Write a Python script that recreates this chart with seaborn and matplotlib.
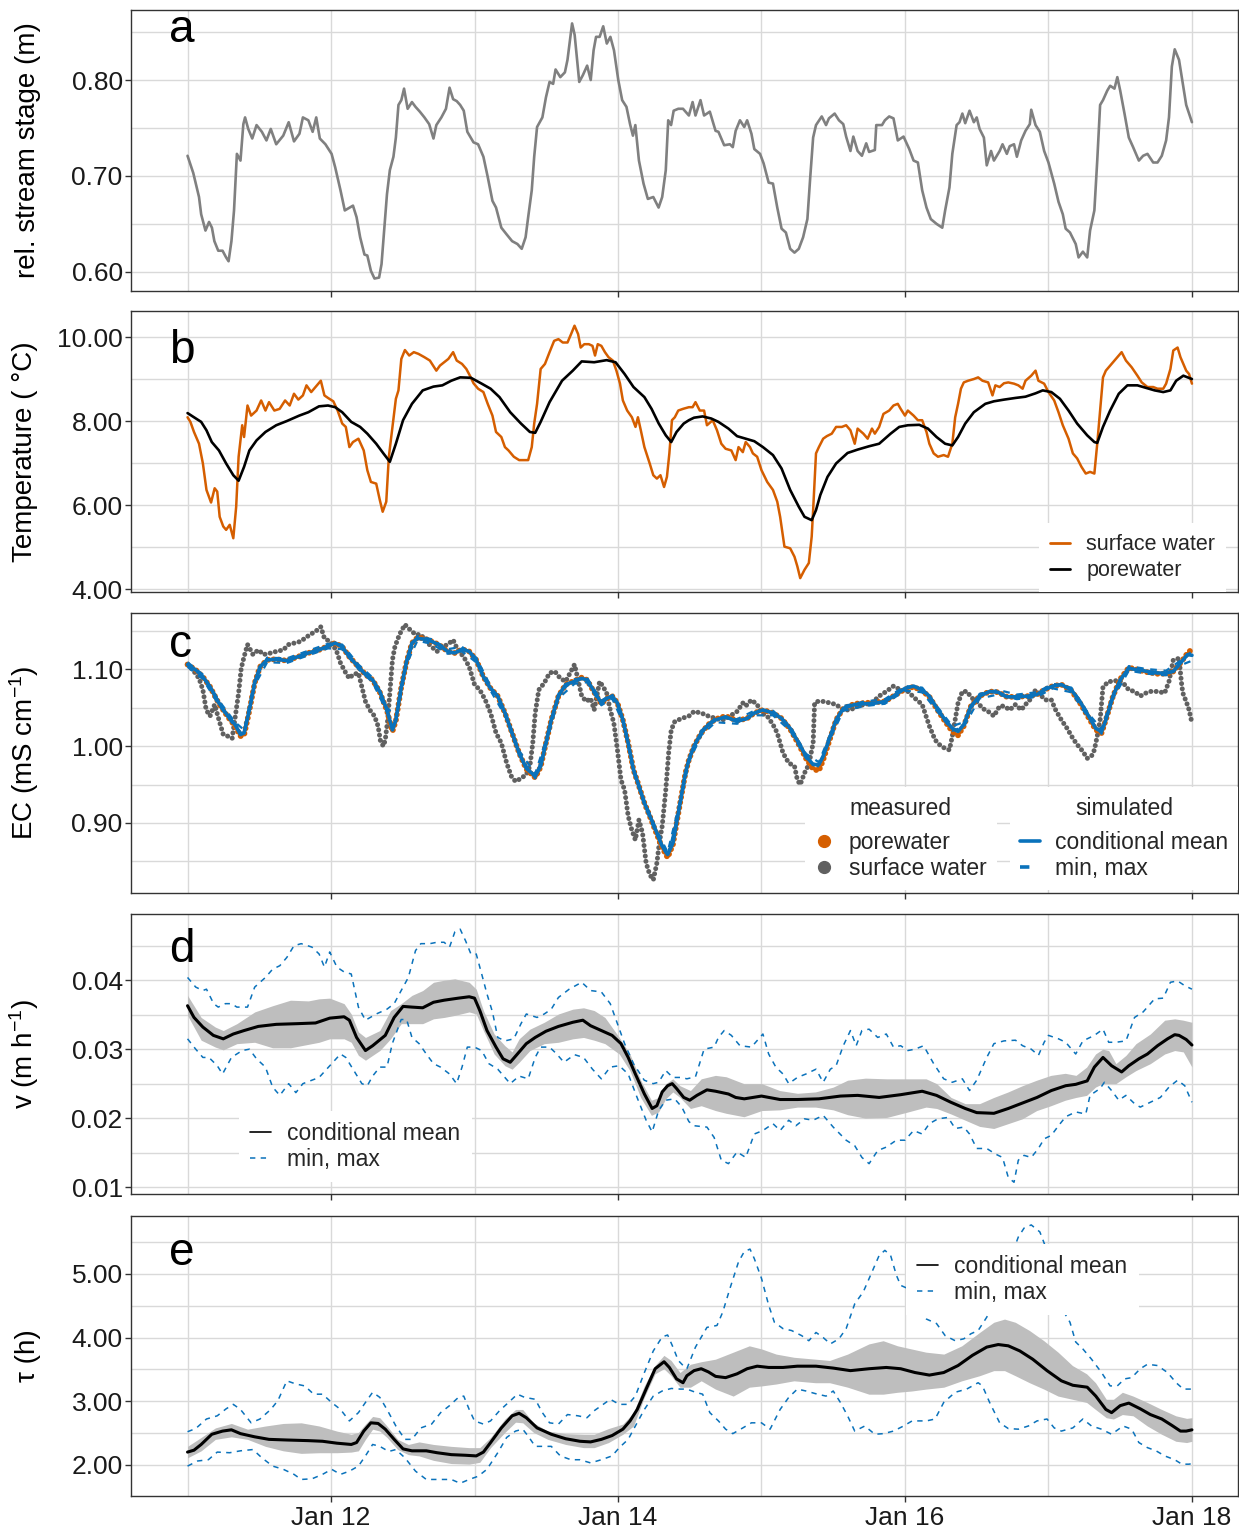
import matplotlib
matplotlib.use("Agg")
import numpy as np
import pandas as pd
import matplotlib.pyplot as plt
import matplotlib.dates as mdates
from matplotlib.lines import Line2D
from matplotlib.ticker import MultipleLocator, FormatStrFormatter
import seaborn as sns

# ---------------- data: (day since Jan 11 00:00, value) ----------------
stage = [(0,0.721),(0.04,0.703),(0.08,0.678),(0.095,0.660),(0.125,0.643),(0.15,0.652),(0.17,0.646),(0.187,0.632),
 (0.214,0.622),(0.244,0.622),(0.269,0.615),(0.286,0.611),(0.306,0.632),(0.324,0.664),(0.344,0.723),(0.369,0.716),
 (0.389,0.754),(0.401,0.761),(0.423,0.749),(0.451,0.739),(0.481,0.753),(0.518,0.746),(0.55,0.737),(0.58,0.749),
 (0.618,0.733),(0.667,0.742),(0.705,0.756),(0.742,0.736),(0.78,0.744),(0.804,0.761),(0.842,0.758),(0.872,0.746),
 (0.897,0.761),(0.922,0.739),(0.961,0.733),(1.004,0.723),(1.029,0.709),(1.066,0.685),(1.096,0.664),(1.153,0.669),
 (1.178,0.657),(1.203,0.636),(1.233,0.618),(1.253,0.617),(1.278,0.601),(1.303,0.593),(1.335,0.594),(1.352,0.608),
 (1.37,0.643),(1.39,0.681),(1.41,0.706),(1.435,0.720),(1.452,0.740),(1.47,0.774),(1.49,0.779),(1.509,0.791),
 (1.534,0.770),(1.564,0.777),(1.589,0.772),(1.619,0.767),(1.651,0.761),(1.684,0.754),(1.714,0.739),(1.734,0.753),
 (1.769,0.761),(1.801,0.770),(1.826,0.792),(1.851,0.780),(1.876,0.778),(1.9,0.774),(1.925,0.768),(1.95,0.746),
 (1.993,0.735),(2.025,0.733),(2.062,0.720),(2.092,0.699),(2.125,0.674),(2.15,0.667),(2.187,0.646),(2.224,0.639),
 (2.262,0.632),(2.299,0.629),(2.329,0.624),(2.356,0.636),(2.374,0.657),(2.399,0.685),(2.416,0.720),(2.436,0.751),
 (2.473,0.761),(2.498,0.782),(2.523,0.798),(2.548,0.796),(2.565,0.811),(2.598,0.803),(2.63,0.808),(2.648,0.821),
 (2.68,0.859),(2.698,0.847),(2.73,0.798),(2.755,0.805),(2.785,0.815),(2.81,0.800),(2.83,0.831),(2.847,0.845),
 (2.872,0.845),(2.897,0.856),(2.922,0.838),(2.947,0.845),(2.972,0.831),(3.002,0.800),(3.029,0.779),(3.059,0.772),
 (3.084,0.754),(3.104,0.742),(3.121,0.753),(3.146,0.716),(3.178,0.692),(3.208,0.676),(3.246,0.678),(3.283,0.667),
 (3.308,0.678),(3.333,0.706),(3.35,0.758),(3.37,0.753),(3.388,0.768),(3.42,0.770),(3.453,0.770),(3.494,0.763),
 (3.52,0.777),(3.54,0.763),(3.575,0.779),(3.60,0.763),(3.64,0.767),(3.68,0.747),(3.70,0.746),(3.74,0.732),
 (3.78,0.733),(3.80,0.730),(3.82,0.747),(3.85,0.758),(3.88,0.751),(3.90,0.758),(3.93,0.744),(3.95,0.728),
 (3.99,0.723),(4.015,0.713),(4.05,0.693),(4.08,0.692),(4.11,0.667),(4.14,0.645),(4.17,0.641),(4.20,0.624),
 (4.23,0.620),(4.26,0.624),(4.29,0.636),(4.32,0.655),(4.34,0.699),(4.36,0.740),(4.38,0.753),(4.42,0.762),
 (4.45,0.753),(4.47,0.760),(4.51,0.765),(4.54,0.758),(4.57,0.754),(4.59,0.741),(4.62,0.726),(4.64,0.741),
 (4.67,0.726),(4.70,0.721),(4.73,0.734),(4.75,0.725),(4.79,0.727),(4.80,0.753),(4.84,0.753),(4.86,0.758),
 (4.89,0.762),(4.92,0.760),(4.95,0.737),(4.99,0.741),(5.03,0.728),(5.06,0.716),(5.09,0.714),(5.12,0.685),
 (5.15,0.667),(5.18,0.655),(5.22,0.650),(5.26,0.646),(5.28,0.664),(5.31,0.688),(5.33,0.723),(5.36,0.753),
 (5.38,0.756),(5.40,0.765),(5.42,0.755),(5.45,0.768),(5.48,0.756),(5.50,0.761),(5.52,0.749),(5.55,0.740),
 (5.57,0.711),(5.60,0.726),(5.62,0.716),(5.66,0.726),(5.68,0.733),(5.71,0.723),(5.73,0.731),(5.76,0.733),
 (5.78,0.720),(5.81,0.737),(5.84,0.747),(5.87,0.754),(5.88,0.769),(5.91,0.753),(5.94,0.746),(5.97,0.726),
 (6.00,0.714),(6.04,0.692),(6.07,0.673),(6.10,0.660),(6.12,0.645),(6.15,0.641),(6.19,0.629),(6.21,0.615),
 (6.24,0.621),(6.27,0.615),(6.29,0.643),(6.32,0.664),(6.34,0.716),(6.36,0.774),(6.38,0.779),(6.41,0.789),
 (6.43,0.794),(6.46,0.791),(6.48,0.803),(6.50,0.789),(6.53,0.765),(6.56,0.740),(6.59,0.730),(6.63,0.716),
 (6.66,0.721),(6.69,0.723),(6.73,0.714),(6.76,0.714),(6.79,0.721),(6.82,0.737),(6.84,0.761),(6.86,0.814),
 (6.88,0.832),(6.91,0.821),(6.94,0.793),(6.96,0.774),(7.00,0.756)]

temp_surface = [(0,8.09),(0.02,7.98),(0.045,7.74),(0.08,7.46),(0.107,6.99),(0.132,6.36),(0.164,6.06),(0.189,6.40),
 (0.207,6.32),(0.224,5.72),(0.249,5.49),(0.269,5.41),(0.294,5.53),(0.319,5.21),(0.339,5.96),(0.356,7.15),(0.381,7.90),
 (0.394,7.62),(0.418,8.37),(0.443,8.13),(0.481,8.25),(0.513,8.49),(0.543,8.25),(0.568,8.45),(0.605,8.25),(0.642,8.29),
 (0.680,8.49),(0.712,8.37),(0.742,8.65),(0.772,8.51),(0.804,8.61),(0.829,8.85),(0.862,8.69),(0.892,8.81),(0.929,8.96),
 (0.954,8.61),(0.979,8.55),(1.016,8.47),(1.046,8.25),(1.078,7.94),(1.103,7.86),(1.128,7.38),(1.153,7.50),(1.191,7.58),
 (1.228,7.30),(1.253,6.83),(1.278,6.55),(1.315,6.51),(1.340,6.12),(1.360,5.84),(1.385,6.08),(1.403,7.15),(1.428,7.86),
 (1.452,8.53),(1.470,8.73),(1.490,9.48),(1.515,9.69),(1.545,9.56),(1.577,9.64),(1.609,9.60),(1.651,9.52),(1.689,9.44),
 (1.734,9.20),(1.759,9.32),(1.789,9.40),(1.818,9.48),(1.851,9.64),(1.876,9.44),(1.913,9.36),(1.943,9.24),(1.968,9.08),
 (1.993,8.90),(2.025,8.77),(2.062,8.69),(2.092,8.41),(2.125,8.13),(2.150,7.74),(2.187,7.62),(2.212,7.38),(2.237,7.30),
 (2.274,7.15),(2.311,7.07),(2.349,7.07),(2.374,7.07),(2.399,7.38),(2.416,7.94),(2.436,8.41),(2.461,9.24),(2.491,9.36),
 (2.523,9.64),(2.555,9.91),(2.585,9.95),(2.615,9.87),(2.648,9.87),(2.673,10.07),(2.697,10.27),(2.722,10.07),(2.740,9.75),
 (2.765,9.83),(2.797,9.83),(2.822,9.79),(2.840,9.56),(2.859,9.83),(2.884,9.79),(2.909,9.64),(2.934,9.52),(2.964,9.44),
 (2.989,9.20),(3.014,8.89),(3.034,8.49),(3.064,8.25),(3.097,8.09),(3.122,7.86),(3.139,8.09),(3.159,7.78),(3.184,7.38),
 (3.221,6.99),(3.246,6.71),(3.271,6.63),(3.296,6.71),(3.321,6.43),(3.341,6.67),(3.358,7.23),(3.376,8.02),(3.396,8.09),
 (3.420,8.25),(3.453,8.29),(3.494,8.33),(3.52,8.33),(3.54,8.45),(3.57,8.25),(3.60,8.25),(3.62,7.90),(3.66,8.02),
 (3.69,7.78),(3.72,7.46),(3.75,7.34),(3.79,7.30),(3.82,7.07),(3.84,7.38),(3.87,7.26),(3.89,7.50),(3.92,7.38),(3.94,7.23),
 (3.97,7.15),(4.00,6.83),(4.04,6.55),(4.08,6.36),(4.11,6.08),(4.13,5.72),(4.16,5.01),(4.20,4.97),(4.23,4.77),(4.25,4.54),
 (4.27,4.26),(4.30,4.46),(4.33,4.62),(4.35,5.25),(4.36,5.88),(4.38,7.23),(4.40,7.38),(4.43,7.58),(4.455,7.64),(4.49,7.70),
 (4.52,7.86),(4.56,7.86),(4.59,7.90),(4.62,7.78),(4.65,7.46),(4.67,7.82),(4.71,7.70),(4.74,7.58),(4.77,7.82),(4.79,7.70),
 (4.82,7.86),(4.85,8.17),(4.89,8.25),(4.92,8.37),(4.95,8.41),(4.97,8.29),(5.00,8.13),(5.02,8.25),(5.06,8.13),(5.09,8.02),
 (5.12,8.02),(5.15,7.74),(5.17,7.46),(5.20,7.23),(5.23,7.15),(5.27,7.19),(5.30,7.15),(5.33,7.46),(5.35,8.09),(5.37,8.41),
 (5.39,8.77),(5.41,8.92),(5.44,8.96),(5.48,9.00),(5.51,9.04),(5.54,8.96),(5.58,8.92),(5.61,8.61),(5.63,8.85),(5.66,8.81),
 (5.69,8.90),(5.72,8.92),(5.76,8.89),(5.79,8.85),(5.82,8.77),(5.84,8.96),(5.88,9.08),(5.91,9.20),(5.93,8.96),(5.97,8.89),
 (6.00,8.69),(6.04,8.49),(6.07,8.21),(6.10,7.90),(6.14,7.58),(6.17,7.23),(6.20,7.11),(6.23,6.91),(6.26,6.75),(6.29,6.79),
 (6.32,6.75),(6.34,7.46),(6.36,8.25),(6.38,9.04),(6.40,9.20),(6.44,9.36),(6.47,9.48),(6.51,9.64),(6.54,9.44),(6.58,9.28),
 (6.62,9.08),(6.65,8.92),(6.69,8.81),(6.73,8.81),(6.76,8.77),(6.80,8.77),(6.82,8.89),(6.85,9.24),(6.87,9.68),(6.90,9.75),
 (6.92,9.52),(6.96,9.20),(6.98,9.12),(7.00,8.89)]

temp_pore = [(0,8.19),(0.045,8.09),(0.095,7.98),(0.132,7.78),(0.169,7.50),(0.219,7.30),(0.269,6.99),(0.319,6.71),
 (0.356,6.58),(0.394,6.91),(0.431,7.30),(0.481,7.54),(0.543,7.74),(0.618,7.90),(0.692,8.00),(0.779,8.13),(0.842,8.21),
 (0.916,8.35),(0.979,8.37),(1.029,8.33),(1.078,8.21),(1.141,7.98),(1.203,7.86),(1.253,7.70),(1.315,7.46),(1.365,7.23),
 (1.410,7.03),(1.452,7.46),(1.502,8.02),(1.564,8.41),(1.639,8.73),(1.714,8.82),(1.776,8.85),(1.838,8.96),(1.900,9.04),
 (1.975,9.03),(2.050,8.89),(2.112,8.77),(2.174,8.57),(2.249,8.21),(2.324,7.94),(2.386,7.74),(2.423,7.72),(2.461,7.98),
 (2.523,8.45),(2.610,8.96),(2.685,9.20),(2.747,9.42),(2.834,9.40),(2.921,9.45),(2.983,9.40),(3.046,9.12),(3.108,8.81),
 (3.184,8.57),(3.234,8.29),(3.284,7.94),(3.333,7.66),(3.371,7.50),(3.408,7.74),(3.458,7.94),(3.494,8.02),(3.53,8.08),
 (3.59,8.11),(3.65,8.06),(3.70,7.98),(3.77,7.82),(3.83,7.64),(3.89,7.58),(3.95,7.52),(4.01,7.38),(4.08,7.19),(4.14,6.87),
 (4.20,6.36),(4.26,5.96),(4.30,5.72),(4.35,5.64),(4.38,5.88),(4.41,6.24),(4.46,6.67),(4.52,6.99),(4.60,7.24),(4.67,7.32),
 (4.75,7.40),(4.82,7.46),(4.90,7.70),(4.96,7.86),(5.02,7.90),(5.10,7.91),(5.16,7.82),(5.22,7.62),(5.28,7.46),(5.33,7.42),
 (5.37,7.62),(5.42,7.94),(5.48,8.21),(5.56,8.41),(5.62,8.47),(5.69,8.51),(5.77,8.55),(5.84,8.58),(5.91,8.66),(5.96,8.73),
 (6.02,8.69),(6.08,8.53),(6.14,8.25),(6.20,7.94),(6.27,7.66),(6.32,7.50),(6.34,7.48),(6.38,7.86),(6.43,8.25),(6.49,8.65),
 (6.55,8.85),(6.62,8.85),(6.68,8.79),(6.74,8.73),(6.80,8.69),(6.85,8.73),(6.89,8.96),(6.94,9.08),(7.00,9.00)]

ec_surface = [(0,1.106),(0.045,1.097),(0.08,1.088),(0.107,1.073),(0.13,1.047),(0.157,1.039),(0.189,1.054),(0.219,1.034),
 (0.249,1.015),(0.279,1.013),(0.311,1.010),(0.339,1.047),(0.356,1.069),(0.374,1.101),(0.394,1.116),(0.418,1.132),
 (0.456,1.119),(0.493,1.125),(0.530,1.119),(0.580,1.121),(0.618,1.123),(0.667,1.125),(0.705,1.132),(0.747,1.134),
 (0.787,1.136),(0.817,1.140),(0.854,1.145),(0.892,1.149),(0.929,1.155),(0.954,1.140),(0.991,1.136),(1.036,1.125),
 (1.066,1.108),(1.103,1.095),(1.128,1.088),(1.153,1.093),(1.191,1.095),(1.215,1.077),(1.240,1.058),(1.270,1.047),
 (1.303,1.039),(1.328,1.026),(1.345,1.006),(1.365,1.000),(1.378,1.008),(1.395,1.034),(1.410,1.069),(1.428,1.112),
 (1.445,1.129),(1.477,1.145),(1.515,1.158),(1.552,1.151),(1.589,1.145),(1.626,1.145),(1.664,1.136),(1.701,1.129),
 (1.739,1.123),(1.776,1.129),(1.813,1.132),(1.851,1.138),(1.883,1.125),(1.925,1.116),(1.963,1.103),(2.000,1.080),
 (2.037,1.073),(2.075,1.060),(2.112,1.043),(2.150,1.017),(2.187,1.004),(2.224,0.978),(2.256,0.961),(2.286,0.954),
 (2.324,0.958),(2.361,0.963),(2.386,0.974),(2.406,1.004),(2.423,1.043),(2.448,1.073),(2.486,1.082),(2.523,1.095),
 (2.560,1.097),(2.598,1.088),(2.635,1.084),(2.672,1.097),(2.697,1.106),(2.722,1.086),(2.747,1.065),(2.779,1.058),
 (2.809,1.062),(2.834,1.047),(2.872,1.084),(2.897,1.077),(2.921,1.069),(2.946,1.047),(2.971,1.030),(2.996,0.995),
 (3.021,0.956),(3.046,0.943),(3.071,0.909),(3.096,0.891),(3.121,0.878),(3.146,0.904),(3.171,0.887),(3.196,0.848),
 (3.221,0.833),(3.246,0.826),(3.271,0.848),(3.288,0.874),(3.308,0.896),(3.333,0.943),(3.353,0.991),(3.371,1.021),
 (3.396,1.032),(3.445,1.036),(3.494,1.039),(3.53,1.045),(3.58,1.043),(3.63,1.039),(3.68,1.036),(3.73,1.034),
 (3.78,1.039),(3.83,1.045),(3.87,1.056),(3.89,1.052),(3.93,1.060),(3.97,1.054),(4.00,1.043),(4.04,1.039),(4.08,1.028),
 (4.11,1.017),(4.15,0.991),(4.19,0.978),(4.23,0.974),(4.25,0.956),(4.27,0.950),(4.30,0.965),(4.33,0.976),(4.36,1.004),
 (4.37,1.056),(4.39,1.058),(4.43,1.058),(4.48,1.056),(4.52,1.054),(4.57,1.047),(4.62,1.047),(4.67,1.052),(4.72,1.054),
 (4.77,1.056),(4.82,1.065),(4.87,1.071),(4.92,1.078),(4.97,1.073),(5.02,1.071),(5.07,1.062),(5.12,1.054),(5.17,1.026),
 (5.21,1.008),(5.25,1.000),(5.28,0.997),(5.31,0.995),(5.33,1.013),(5.37,1.056),(5.40,1.071),(5.43,1.071),(5.47,1.062),
 (5.51,1.056),(5.54,1.049),(5.58,1.045),(5.62,1.039),(5.66,1.052),(5.69,1.052),(5.73,1.047),(5.77,1.054),(5.81,1.047),
 (5.84,1.054),(5.88,1.062),(5.91,1.073),(5.94,1.067),(5.98,1.060),(6.02,1.060),(6.05,1.047),(6.09,1.034),(6.13,1.023),
 (6.17,1.010),(6.20,1.002),(6.24,0.993),(6.27,0.984),(6.30,0.987),(6.32,0.995),(6.34,1.013),(6.36,1.034),(6.38,1.077),
 (6.42,1.084),(6.45,1.084),(6.49,1.086),(6.53,1.080),(6.56,1.073),(6.60,1.071),(6.64,1.065),(6.68,1.069),(6.71,1.071),
 (6.76,1.071),(6.81,1.069),(6.84,1.084),(6.87,1.112),(6.91,1.114),(6.93,1.077),(6.94,1.067),(6.96,1.058),(6.98,1.047),
 (7.00,1.030)]

ec_pore = [(0,1.106),(0.057,1.099),(0.107,1.090),(0.157,1.077),(0.219,1.055),(0.281,1.038),(0.331,1.026),(0.369,1.013),
 (0.394,1.014),(0.431,1.046),(0.468,1.082),(0.505,1.103),(0.555,1.112),(0.618,1.113),(0.692,1.111),(0.767,1.116),
 (0.842,1.121),(0.916,1.125),(0.979,1.130),(1.029,1.134),(1.078,1.129),(1.128,1.116),(1.191,1.103),(1.240,1.093),
 (1.290,1.086),(1.340,1.070),(1.390,1.046),(1.428,1.019),(1.452,1.033),(1.490,1.077),(1.527,1.110),(1.564,1.134),
 (1.602,1.141),(1.651,1.140),(1.701,1.136),(1.751,1.132),(1.813,1.123),(1.863,1.121),(1.913,1.126),(1.963,1.123),
 (2.012,1.112),(2.062,1.090),(2.112,1.075),(2.162,1.065),(2.212,1.043),(2.262,1.017),(2.311,0.991),(2.361,0.970),
 (2.423,0.959),(2.461,0.973),(2.498,1.004),(2.535,1.034),(2.585,1.065),(2.635,1.080),(2.697,1.085),(2.747,1.089),
 (2.784,1.086),(2.834,1.070),(2.884,1.055),(2.921,1.062),(2.959,1.065),(2.996,1.056),(3.034,1.034),(3.071,1.004),
 (3.108,0.969),(3.146,0.948),(3.184,0.926),(3.234,0.903),(3.271,0.885),(3.308,0.868),(3.346,0.855),(3.383,0.872),
 (3.433,0.926),(3.470,0.965),(3.494,0.982),(3.53,1.000),(3.58,1.017),(3.63,1.028),(3.68,1.035),(3.75,1.039),
 (3.83,1.033),(3.90,1.036),(3.95,1.043),(4.01,1.047),(4.08,1.043),(4.14,1.036),(4.20,1.022),(4.26,1.002),(4.31,0.984),
 (4.36,0.970),(4.40,0.968),(4.43,0.982),(4.48,1.011),(4.52,1.034),(4.57,1.049),(4.65,1.055),(4.72,1.056),(4.80,1.057),
 (4.86,1.058),(4.92,1.065),(5.00,1.074),(5.06,1.077),(5.12,1.072),(5.17,1.064),(5.23,1.046),(5.28,1.032),(5.33,1.019),
 (5.37,1.014),(5.41,1.026),(5.46,1.052),(5.52,1.065),(5.59,1.071),(5.65,1.070),(5.71,1.064),(5.78,1.064),(5.86,1.065),
 (5.92,1.067),(5.97,1.073),(6.03,1.078),(6.09,1.080),(6.16,1.072),(6.22,1.056),(6.28,1.037),(6.33,1.021),(6.37,1.017),
 (6.40,1.034),(6.45,1.065),(6.50,1.087),(6.56,1.102),(6.63,1.099),(6.69,1.096),(6.76,1.094),(6.82,1.094),(6.87,1.097),
 (6.92,1.108),(6.97,1.121),(7.00,1.126)]

ec_sim_mean = [(0,1.106),(0.057,1.099),(0.107,1.090),(0.157,1.077),(0.219,1.056),(0.281,1.039),(0.331,1.028),(0.369,1.015),
 (0.394,1.017),(0.431,1.047),(0.468,1.082),(0.505,1.103),(0.555,1.112),(0.618,1.113),(0.692,1.111),(0.767,1.116),
 (0.842,1.121),(0.916,1.125),(0.979,1.130),(1.029,1.134),(1.078,1.129),(1.128,1.116),(1.191,1.103),(1.240,1.093),
 (1.290,1.086),(1.340,1.071),(1.390,1.047),(1.428,1.021),(1.452,1.034),(1.490,1.077),(1.527,1.110),(1.564,1.134),
 (1.602,1.140),(1.651,1.139),(1.701,1.136),(1.751,1.132),(1.813,1.123),(1.863,1.121),(1.913,1.126),(1.963,1.123),
 (2.012,1.112),(2.062,1.090),(2.112,1.075),(2.162,1.065),(2.212,1.043),(2.262,1.017),(2.311,0.991),(2.361,0.971),
 (2.423,0.961),(2.461,0.974),(2.498,1.004),(2.535,1.034),(2.585,1.065),(2.635,1.080),(2.697,1.084),(2.747,1.088),
 (2.784,1.086),(2.834,1.071),(2.884,1.056),(2.921,1.062),(2.959,1.065),(2.996,1.056),(3.034,1.034),(3.071,1.004),
 (3.108,0.969),(3.146,0.948),(3.184,0.926),(3.234,0.904),(3.271,0.887),(3.308,0.870),(3.346,0.859),(3.383,0.874),
 (3.433,0.926),(3.470,0.965),(3.494,0.982),(3.53,1.000),(3.58,1.017),(3.63,1.028),(3.68,1.034),(3.75,1.038),
 (3.83,1.032),(3.90,1.036),(3.95,1.043),(4.01,1.047),(4.08,1.043),(4.14,1.036),(4.20,1.023),(4.26,1.004),(4.31,0.987),
 (4.36,0.976),(4.40,0.976),(4.43,0.987),(4.48,1.013),(4.52,1.034),(4.57,1.049),(4.65,1.054),(4.72,1.055),(4.80,1.056),
 (4.86,1.058),(4.92,1.065),(5.00,1.075),(5.06,1.078),(5.12,1.073),(5.17,1.065),(5.23,1.047),(5.28,1.034),(5.33,1.023),
 (5.37,1.019),(5.41,1.028),(5.46,1.052),(5.52,1.065),(5.59,1.071),(5.65,1.070),(5.71,1.064),(5.78,1.064),(5.86,1.065),
 (5.92,1.067),(5.97,1.073),(6.03,1.078),(6.09,1.080),(6.16,1.073),(6.22,1.058),(6.28,1.039),(6.33,1.023),(6.37,1.019),
 (6.40,1.034),(6.45,1.065),(6.50,1.086),(6.56,1.101),(6.63,1.099),(6.69,1.097),(6.76,1.095),(6.82,1.095),(6.87,1.097),
 (6.92,1.108),(6.97,1.119),(7.00,1.118)]

ec_sim_max = [(0,1.109),(0.107,1.093),(0.219,1.059),(0.331,1.031),(0.394,1.021),(0.468,1.086),(0.555,1.115),(0.692,1.114),
 (0.842,1.124),(0.979,1.133),(1.078,1.132),(1.191,1.106),(1.290,1.089),(1.390,1.050),(1.452,1.038),(1.527,1.113),
 (1.602,1.143),(1.701,1.139),(1.813,1.126),(1.913,1.129),(2.012,1.115),(2.112,1.078),(2.212,1.046),(2.311,0.994),
 (2.423,0.964),(2.498,1.008),(2.585,1.068),(2.697,1.087),(2.784,1.089),(2.884,1.059),(2.959,1.068),(3.034,1.037),
 (3.108,0.972),(3.184,0.929),(3.271,0.890),(3.346,0.862),(3.433,0.929),(3.494,0.985),(3.58,1.020),(3.68,1.037),
 (3.83,1.035),(3.95,1.046),(4.08,1.046),(4.20,1.026),(4.31,0.990),(4.40,0.979),(4.48,1.016),(4.57,1.052),(4.72,1.058),
 (4.86,1.061),(5.00,1.078),(5.12,1.076),(5.23,1.050),(5.33,1.026),(5.41,1.031),(5.52,1.068),(5.65,1.073),(5.78,1.067),
 (5.92,1.070),(6.03,1.081),(6.16,1.076),(6.28,1.042),(6.37,1.022),(6.45,1.068),(6.56,1.104),(6.69,1.100),(6.82,1.098),
 (6.92,1.111),(7.00,1.123)]

ec_sim_min = [(0,1.103),(0.107,1.087),(0.219,1.053),(0.331,1.025),(0.394,1.014),(0.468,1.079),(0.555,1.109),(0.692,1.108),
 (0.842,1.118),(0.979,1.127),(1.078,1.126),(1.191,1.100),(1.290,1.083),(1.390,1.044),(1.452,1.031),(1.527,1.107),
 (1.602,1.137),(1.701,1.133),(1.813,1.120),(1.913,1.123),(2.012,1.109),(2.112,1.072),(2.212,1.040),(2.311,0.988),
 (2.423,0.958),(2.498,1.001),(2.585,1.062),(2.697,1.081),(2.784,1.083),(2.884,1.053),(2.959,1.062),(3.034,1.031),
 (3.108,0.966),(3.184,0.923),(3.271,0.884),(3.346,0.856),(3.433,0.923),(3.494,0.979),(3.58,1.014),(3.68,1.031),
 (3.83,1.029),(3.95,1.040),(4.08,1.040),(4.20,1.020),(4.31,0.984),(4.40,0.973),(4.48,1.010),(4.57,1.046),(4.72,1.052),
 (4.86,1.055),(5.00,1.072),(5.12,1.070),(5.23,1.044),(5.33,1.020),(5.41,1.025),(5.52,1.062),(5.65,1.067),(5.78,1.061),
 (5.92,1.064),(6.03,1.075),(6.16,1.070),(6.28,1.036),(6.37,1.016),(6.45,1.062),(6.56,1.098),(6.69,1.094),(6.82,1.092),
 (6.92,1.105),(7.00,1.111)]

v_mean = [(0,0.0363),(0.045,0.0346),(0.107,0.0332),(0.18,0.0320),(0.249,0.0315),(0.319,0.0322),(0.394,0.0327),
 (0.493,0.0333),(0.618,0.0336),(0.767,0.0337),(0.892,0.0338),(0.991,0.0345),(1.091,0.0347),(1.128,0.0342),(1.178,0.0317),
 (1.240,0.0298),(1.290,0.0305),(1.378,0.0320),(1.440,0.0346),(1.502,0.0362),(1.564,0.0361),(1.639,0.0360),(1.714,0.0368),
 (1.788,0.0371),(1.888,0.0374),(1.963,0.0376),(2.000,0.0374),(2.037,0.0356),(2.087,0.0327),(2.150,0.0303),(2.199,0.0286),
 (2.249,0.0281),(2.299,0.0293),(2.361,0.0308),(2.423,0.0317),(2.498,0.0326),(2.585,0.0333),(2.685,0.0339),(2.755,0.0342),
 (2.809,0.0334),(2.884,0.0327),(2.959,0.0320),(3.021,0.0308),(3.071,0.0288),(3.121,0.0264),(3.184,0.0235),(3.238,0.0214),
 (3.271,0.0218),(3.308,0.0238),(3.346,0.0247),(3.378,0.0250),(3.408,0.0243),(3.458,0.0230),(3.50,0.0226),(3.55,0.0233),
 (3.62,0.0241),(3.68,0.0239),(3.77,0.0235),(3.82,0.0230),(3.88,0.0228),(4.00,0.0232),(4.13,0.0227),(4.25,0.0227),
 (4.40,0.0228),(4.55,0.0232),(4.67,0.0233),(4.82,0.0230),(4.97,0.0234),(5.12,0.0239),(5.22,0.0233),(5.32,0.0223),
 (5.42,0.0214),(5.50,0.0208),(5.62,0.0207),(5.72,0.0214),(5.82,0.0222),(5.92,0.0230),(6.02,0.0240),(6.12,0.0247),
 (6.19,0.0249),(6.27,0.0254),(6.32,0.0274),(6.38,0.0288),(6.44,0.0276),(6.51,0.0267),(6.56,0.0276),(6.63,0.0286),
 (6.69,0.0293),(6.76,0.0305),(6.83,0.0315),(6.88,0.0321),(6.91,0.0320),(6.96,0.0314),(7.00,0.0306)]

# (day, lower, upper) of the grey band
v_band = [(0,0.0349,0.0378),(0.095,0.0313,0.0346),(0.194,0.0303,0.0332),(0.249,0.0299,0.0327),(0.344,0.0308,0.0337),
 (0.468,0.0310,0.0354),(0.593,0.0302,0.0363),(0.717,0.0302,0.0371),(0.842,0.0307,0.0370),(0.917,0.0310,0.0373),
 (0.991,0.0315,0.0374),(1.091,0.0315,0.0366),(1.141,0.0310,0.0351),(1.191,0.0291,0.0325),(1.240,0.0284,0.0317),
 (1.340,0.0298,0.0327),(1.415,0.0315,0.0356),(1.489,0.0337,0.0366),(1.564,0.0337,0.0378),(1.639,0.0337,0.0385),
 (1.714,0.0344,0.0397),(1.788,0.0346,0.0400),(1.863,0.0349,0.0402),(1.963,0.0354,0.0397),(2.012,0.0351,0.0387),
 (2.062,0.0327,0.0356),(2.137,0.0293,0.0322),(2.212,0.0276,0.0305),(2.262,0.0271,0.0296),(2.311,0.0281,0.0315),
 (2.386,0.0298,0.0329),(2.486,0.0308,0.0339),(2.585,0.0310,0.0351),(2.685,0.0315,0.0358),(2.760,0.0317,0.0360),
 (2.834,0.0313,0.0356),(2.909,0.0308,0.0346),(3.009,0.0293,0.0317),(3.083,0.0269,0.0293),(3.158,0.0230,0.0255),
 (3.233,0.0204,0.0226),(3.283,0.0209,0.0230),(3.333,0.0228,0.0250),(3.382,0.0238,0.0257),(3.432,0.0230,0.0247),
 (3.505,0.0214,0.0240),(3.580,0.0218,0.0257),(3.679,0.0211,0.0262),(3.754,0.0207,0.0260),(3.878,0.0202,0.0250),
 (4.002,0.0211,0.0250),(4.127,0.0212,0.0240),(4.251,0.0216,0.0236),(4.376,0.0216,0.0238),(4.500,0.0212,0.0245),
 (4.600,0.0205,0.0255),(4.724,0.0200,0.0258),(4.873,0.0201,0.0257),(5.022,0.0209,0.0257),(5.147,0.0216,0.0257),
 (5.221,0.0214,0.0250),(5.321,0.0206,0.0230),(5.420,0.0197,0.0221),(5.520,0.0188,0.0221),(5.619,0.0185,0.0230),
 (5.719,0.0192,0.0238),(5.818,0.0199,0.0247),(5.918,0.0211,0.0255),(6.017,0.0218,0.0262),(6.117,0.0226,0.0265),
 (6.192,0.0230,0.0262),(6.266,0.0233,0.0274),(6.328,0.0245,0.0293),(6.378,0.0250,0.0300),(6.42,0.0250,0.0298),
 (6.47,0.0250,0.0279),(6.54,0.0260,0.0291),(6.61,0.0269,0.0308),(6.71,0.0279,0.0322),(6.81,0.0293,0.0342),
 (6.88,0.0298,0.0344),(6.94,0.0296,0.0342),(7.00,0.0274,0.0339)]

v_max = [(0,0.0404),(0.057,0.0390),(0.107,0.0385),(0.132,0.0387),(0.182,0.0366),(0.214,0.0361),(0.264,0.0366),
 (0.306,0.0366),(0.344,0.0361),(0.418,0.0361),(0.468,0.0390),(0.543,0.0404),(0.593,0.0416),(0.643,0.0421),(0.692,0.0433),
 (0.742,0.0450),(0.792,0.0453),(0.867,0.0448),(0.917,0.0438),(0.954,0.0419),(0.991,0.0441),(1.041,0.0419),(1.091,0.0412),
 (1.141,0.0409),(1.191,0.0361),(1.240,0.0342),(1.315,0.0351),(1.390,0.0358),(1.440,0.0366),(1.489,0.0385),(1.539,0.0404),
 (1.589,0.0443),(1.626,0.0453),(1.689,0.0453),(1.738,0.0455),(1.788,0.0455),(1.826,0.0448),(1.863,0.0470),(1.900,0.0474),
 (1.938,0.0457),(1.975,0.0438),(2.012,0.0438),(2.050,0.0409),(2.087,0.0380),(2.125,0.0354),(2.162,0.0317),(2.212,0.0312),
 (2.274,0.0315),(2.324,0.0337),(2.361,0.0351),(2.436,0.0346),(2.486,0.0351),(2.535,0.0358),(2.585,0.0375),(2.660,0.0387),
 (2.747,0.0397),(2.809,0.0385),(2.884,0.0383),(2.946,0.0366),(2.996,0.0337),(3.046,0.0308),(3.108,0.0279),(3.183,0.0255),
 (3.245,0.0250),(3.283,0.0252),(3.333,0.0269),(3.382,0.0259),(3.445,0.0259),(3.48,0.0257),(3.54,0.0260),(3.60,0.0300),
 (3.67,0.0303),(3.70,0.0317),(3.74,0.0327),(3.79,0.0320),(3.85,0.0305),(3.93,0.0303),(3.98,0.0315),(4.01,0.0322),
 (4.05,0.0293),(4.10,0.0274),(4.15,0.0264),(4.19,0.0250),(4.25,0.0259),(4.31,0.0264),(4.38,0.0271),(4.43,0.0252),
 (4.48,0.0271),(4.52,0.0276),(4.57,0.0305),(4.62,0.0327),(4.66,0.0305),(4.70,0.0327),(4.75,0.0329),(4.81,0.0317),
 (4.87,0.0322),(4.92,0.0303),(4.97,0.0305),(5.02,0.0298),(5.07,0.0300),(5.13,0.0305),(5.20,0.0279),(5.27,0.0257),
 (5.33,0.0252),(5.40,0.0257),(5.45,0.0240),(5.50,0.0255),(5.57,0.0288),(5.62,0.0308),(5.69,0.0312),(5.77,0.0313),
 (5.82,0.0305),(5.88,0.0300),(5.93,0.0291),(5.97,0.0310),(6.00,0.0320),(6.07,0.0315),(6.12,0.0310),(6.19,0.0293),
 (6.24,0.0312),(6.32,0.0320),(6.38,0.0329),(6.42,0.0310),(6.47,0.0310),(6.54,0.0312),(6.60,0.0346),(6.66,0.0354),
 (6.74,0.0373),(6.80,0.0374),(6.85,0.0397),(6.90,0.0399),(6.95,0.0392),(7.00,0.0387)]

v_min = [(0,0.0315),(0.057,0.0300),(0.107,0.0288),(0.149,0.0288),(0.207,0.0276),(0.244,0.0264),(0.306,0.0288),
 (0.381,0.0298),(0.431,0.0300),(0.481,0.0286),(0.543,0.0274),(0.593,0.0245),(0.643,0.0233),(0.705,0.0250),(0.755,0.0237),
 (0.804,0.0250),(0.867,0.0255),(0.917,0.0259),(0.991,0.0276),(1.066,0.0293),(1.103,0.0288),(1.153,0.0271),(1.215,0.0250),
 (1.253,0.0247),(1.290,0.0261),(1.340,0.0274),(1.390,0.0274),(1.427,0.0308),(1.489,0.0343),(1.527,0.0343),(1.564,0.0317),
 (1.614,0.0308),(1.664,0.0293),(1.714,0.0279),(1.763,0.0274),(1.826,0.0264),(1.875,0.0250),(1.913,0.0274),(1.950,0.0303),
 (2.000,0.0303),(2.050,0.0298),(2.100,0.0279),(2.162,0.0271),(2.249,0.0250),(2.311,0.0261),(2.374,0.0257),(2.423,0.0288),
 (2.461,0.0303),(2.523,0.0303),(2.573,0.0293),(2.623,0.0281),(2.697,0.0292),(2.760,0.0288),(2.822,0.0271),(2.884,0.0257),
 (2.946,0.0274),(3.009,0.0276),(3.071,0.0264),(3.133,0.0230),(3.196,0.0197),(3.238,0.0180),(3.283,0.0211),(3.333,0.0226),
 (3.395,0.0228),(3.445,0.0216),(3.494,0.0195),(3.53,0.0189),(3.62,0.0187),(3.67,0.0172),(3.72,0.0139),(3.77,0.0134),
 (3.83,0.0151),(3.89,0.0143),(3.95,0.0177),(4.01,0.0182),(4.08,0.0192),(4.13,0.0182),(4.19,0.0197),(4.24,0.0189),
 (4.30,0.0199),(4.36,0.0197),(4.43,0.0204),(4.50,0.0187),(4.59,0.0168),(4.65,0.0160),(4.70,0.0143),(4.75,0.0134),
 (4.81,0.0153),(4.87,0.0158),(4.94,0.0168),(5.00,0.0168),(5.06,0.0182),(5.12,0.0177),(5.17,0.0192),(5.23,0.0199),
 (5.30,0.0201),(5.35,0.0185),(5.41,0.0187),(5.45,0.0177),(5.50,0.0156),(5.57,0.0156),(5.63,0.0148),(5.68,0.0143),
 (5.72,0.0114),(5.76,0.0107),(5.79,0.0139),(5.83,0.0146),(5.88,0.0143),(5.93,0.0156),(5.97,0.0170),(6.02,0.0175),
 (6.07,0.0189),(6.12,0.0202),(6.19,0.0209),(6.26,0.0206),(6.29,0.0233),(6.36,0.0243),(6.39,0.0252),(6.44,0.0240),
 (6.49,0.0226),(6.54,0.0233),(6.60,0.0221),(6.64,0.0216),(6.71,0.0223),(6.78,0.0230),(6.84,0.0245),(6.90,0.0255),
 (6.95,0.0247),(7.00,0.0223)]

tau_mean = [(0,2.20),(0.045,2.23),(0.095,2.32),(0.169,2.48),(0.244,2.53),(0.306,2.55),(0.369,2.49),(0.468,2.44),
 (0.568,2.40),(0.692,2.39),(0.842,2.38),(0.941,2.37),(1.041,2.34),(1.141,2.32),(1.178,2.35),(1.228,2.53),(1.278,2.66),
 (1.328,2.65),(1.378,2.56),(1.440,2.40),(1.502,2.25),(1.564,2.22),(1.664,2.22),(1.739,2.19),(1.838,2.16),(1.938,2.15),
 (2.012,2.14),(2.062,2.20),(2.112,2.35),(2.187,2.58),(2.262,2.77),(2.311,2.81),(2.361,2.74),(2.436,2.58),(2.535,2.48),
 (2.635,2.41),(2.735,2.37),(2.809,2.36),(2.884,2.40),(2.959,2.46),(3.034,2.56),(3.084,2.69),(3.134,2.87),(3.196,3.19),
 (3.259,3.51),(3.321,3.62),(3.358,3.53),(3.408,3.35),(3.453,3.29),(3.48,3.40),(3.53,3.48),(3.58,3.51),(3.63,3.46),
 (3.68,3.39),(3.75,3.37),(3.83,3.43),(3.90,3.51),(3.97,3.55),(4.05,3.53),(4.15,3.53),(4.25,3.55),(4.38,3.55),(4.50,3.52),
 (4.62,3.48),(4.75,3.51),(4.87,3.53),(4.97,3.51),(5.07,3.45),(5.17,3.41),(5.27,3.45),(5.37,3.56),(5.47,3.72),(5.57,3.85),
 (5.65,3.89),(5.72,3.87),(5.80,3.79),(5.89,3.66),(5.99,3.48),(6.09,3.32),(6.17,3.25),(6.27,3.22),(6.33,3.08),(6.40,2.87),
 (6.44,2.82),(6.50,2.93),(6.56,2.97),(6.64,2.88),(6.71,2.79),(6.79,2.72),(6.86,2.62),(6.92,2.53),(6.96,2.53),(7.00,2.55)]

tau_band = [(0,2.11,2.29),(0.095,2.22,2.43),(0.194,2.40,2.58),(0.306,2.44,2.65),(0.418,2.40,2.56),(0.543,2.29,2.61),
 (0.667,2.22,2.65),(0.792,2.18,2.66),(0.917,2.19,2.61),(1.041,2.19,2.53),(1.141,2.20,2.48),(1.191,2.22,2.51),
 (1.240,2.40,2.64),(1.290,2.56,2.76),(1.340,2.53,2.74),(1.390,2.43,2.61),(1.465,2.24,2.40),(1.539,2.16,2.32),
 (1.614,2.14,2.36),(1.714,2.07,2.32),(1.838,2.02,2.29),(1.963,2.01,2.27),(2.037,2.04,2.27),(2.112,2.27,2.43),
 (2.212,2.51,2.72),(2.286,2.67,2.87),(2.336,2.66,2.87),(2.411,2.51,2.66),(2.511,2.40,2.53),(2.635,2.32,2.49),
 (2.760,2.27,2.48),(2.834,2.27,2.48),(2.934,2.35,2.57),(3.034,2.48,2.64),(3.108,2.61,2.82),(3.183,3.06,3.24),
 (3.258,3.43,3.56),(3.320,3.51,3.72),(3.370,3.40,3.64),(3.432,3.22,3.45),(3.505,3.22,3.58),(3.580,3.32,3.62),
 (3.679,3.19,3.66),(3.803,3.08,3.77),(3.915,3.22,3.87),(4.002,3.24,3.82),(4.102,3.27,3.74),(4.226,3.32,3.69),
 (4.376,3.29,3.66),(4.475,3.29,3.64),(4.600,3.22,3.74),(4.749,3.11,3.90),(4.848,3.11,3.95),(4.948,3.14,3.87),
 (5.047,3.16,3.82),(5.147,3.19,3.77),(5.271,3.22,3.74),(5.396,3.32,3.87),(5.520,3.40,4.08),(5.619,3.48,4.24),
 (5.694,3.48,4.29),(5.769,3.40,4.24),(5.868,3.29,4.11),(5.968,3.19,3.95),(6.067,3.08,3.77),(6.167,3.03,3.56),
 (6.266,2.98,3.43),(6.328,2.87,3.29),(6.403,2.74,3.03),(6.453,2.72,3.03),(6.515,2.79,3.14),(6.590,2.77,3.08),
 (6.689,2.61,2.98),(6.789,2.48,2.87),(6.888,2.37,2.77),(6.963,2.35,2.73),(7.00,2.37,2.74)]

tau_max = [(0,2.52),(0.057,2.57),(0.132,2.72),(0.207,2.77),(0.269,2.88),(0.319,2.95),(0.369,2.87),(0.443,2.66),
 (0.505,2.72),(0.580,2.87),(0.630,3.01),(0.692,3.32),(0.755,3.27),(0.817,3.24),(0.879,3.11),(0.941,3.11),(1.004,2.98),
 (1.066,2.87),(1.128,2.69),(1.191,2.82),(1.240,2.98),(1.290,3.14),(1.340,3.06),(1.390,2.87),(1.452,2.61),(1.515,2.40),
 (1.564,2.40),(1.626,2.58),(1.701,2.64),(1.764,2.82),(1.826,2.93),(1.888,3.06),(1.925,3.08),(1.963,2.87),(2.000,2.69),
 (2.062,2.64),(2.112,2.69),(2.174,2.85),(2.237,2.98),(2.299,3.11),(2.349,3.06),(2.423,3.03),(2.473,2.82),(2.523,2.66),
 (2.585,2.64),(2.648,2.79),(2.722,2.77),(2.784,2.74),(2.834,2.85),(2.897,2.95),(2.946,3.03),(3.009,2.95),(3.071,2.95),
 (3.121,3.08),(3.184,3.45),(3.246,3.79),(3.308,4.01),(3.346,4.04),(3.383,3.85),(3.420,3.64),(3.458,3.55),(3.48,3.51),
 (3.54,3.85),(3.62,4.16),(3.69,4.19),(3.73,4.40),(3.78,4.77),(3.84,5.19),(3.88,5.35),(3.92,5.39),(3.95,5.24),(4.00,4.93),
 (4.05,4.51),(4.09,4.24),(4.15,4.14),(4.21,4.11),(4.28,4.03),(4.33,3.95),(4.38,4.08),(4.43,4.00),(4.48,3.90),(4.54,3.98),
 (4.59,4.14),(4.65,4.53),(4.71,4.72),(4.77,5.03),(4.82,5.29),(4.86,5.37),(4.90,5.29),(4.94,4.98),(4.97,4.82),(5.02,4.77),
 (5.07,4.51),(5.15,4.29),(5.22,4.22),(5.28,4.03),(5.35,3.95),(5.41,3.98),(5.46,4.06),(5.51,4.11),(5.57,4.32),(5.62,4.56),
 (5.66,4.80),(5.71,5.08),(5.76,5.40),(5.79,5.58),(5.83,5.72),(5.88,5.77),(5.94,5.66),(6.02,5.19),(6.10,4.43),(6.15,4.24),
 (6.19,3.93),(6.24,3.82),(6.30,3.66),(6.37,3.45),(6.43,3.24),(6.48,3.24),(6.53,3.35),(6.58,3.37),(6.64,3.51),(6.69,3.58),
 (6.76,3.56),(6.83,3.45),(6.89,3.29),(6.94,3.19),(7.00,3.19)]

tau_min = [(0,1.98),(0.070,2.06),(0.145,2.08),(0.207,2.20),(0.294,2.19),(0.369,2.22),(0.456,2.24),(0.518,2.11),
 (0.593,1.98),(0.667,1.93),(0.742,1.85),(0.792,1.77),(0.867,1.78),(0.941,1.85),(1.004,1.93),(1.066,1.85),(1.128,1.90),
 (1.191,1.98),(1.240,2.14),(1.290,2.32),(1.340,2.29),(1.402,2.21),(1.452,2.24),(1.515,2.11),(1.589,1.90),(1.664,1.77),
 (1.751,1.77),(1.838,1.77),(1.900,1.71),(1.963,1.77),(2.025,1.82),(2.087,1.93),(2.162,2.19),(2.224,2.43),(2.286,2.53),
 (2.336,2.56),(2.374,2.45),(2.423,2.29),(2.485,2.29),(2.535,2.29),(2.598,2.14),(2.672,2.08),(2.735,2.08),(2.809,2.03),
 (2.884,2.08),(2.959,2.14),(3.009,2.27),(3.071,2.40),(3.121,2.61),(3.184,2.87),(3.246,3.08),(3.308,3.16),(3.371,3.20),
 (3.433,3.19),(3.48,3.19),(3.54,3.14),(3.59,3.11),(3.64,2.82),(3.70,2.69),(3.75,2.56),(3.80,2.49),(3.87,2.58),(3.93,2.66),
 (4.00,2.66),(4.06,2.56),(4.13,2.87),(4.19,3.06),(4.25,3.19),(4.31,3.16),(4.39,3.11),(4.45,3.08),(4.50,3.16),(4.55,2.98),
 (4.60,2.77),(4.65,2.53),(4.72,2.61),(4.79,2.48),(4.85,2.49),(4.92,2.53),(4.99,2.61),(5.05,2.69),(5.15,2.69),(5.21,2.72),
 (5.27,2.98),(5.35,3.14),(5.43,3.19),(5.51,3.29),(5.54,3.24),(5.59,2.98),(5.66,2.66),(5.72,2.57),(5.79,2.56),(5.86,2.61),
 (5.92,2.69),(5.99,2.72),(6.04,2.58),(6.09,2.53),(6.17,2.58),(6.24,2.72),(6.30,2.61),(6.37,2.56),(6.44,2.48),(6.52,2.61),
 (6.58,2.56),(6.63,2.35),(6.69,2.27),(6.75,2.22),(6.81,2.14),(6.88,2.08),(6.93,2.01),(6.98,2.01),(7.00,2.02)]

x_tick_days = [12, 14, 16, 18]
x_minor_days = [11, 13, 15, 17]

# ---------------- styling ----------------
sns.set_theme(style="ticks")
plt.rcParams["font.family"] = ["Liberation Sans", "DejaVu Sans"]
plt.rcParams["mathtext.fontset"] = "custom"
plt.rcParams["mathtext.rm"] = "Liberation Sans"
plt.rcParams["mathtext.it"] = "Liberation Sans:italic"
plt.rcParams["mathtext.default"] = "regular"

ORANGE = "#D55E00"
BLUE = "#0a72bb"
GREY_LINE = "#808080"
GREY_DOT = "#606060"
BAND = "#BEBEBE"
GRID = "#D9D9D9"

BASE = pd.Timestamp("2019-01-11")


def frame(pairs, cols=("day", "v")):
    d = pd.DataFrame(pairs, columns=list(cols))
    d["time"] = BASE + pd.to_timedelta(d["day"], unit="D")
    return d


W, H = 1239, 1529
fig = plt.figure(figsize=(W / 100, H / 100), dpi=100)


def add_ax(top, bottom):
    return fig.add_axes([131 / W, 1 - bottom / H, (1238 - 131) / W, (bottom - top) / H])


axa = add_ax(10, 291)
axb = add_ax(311, 592)
axc = add_ax(613, 893)
axd = add_ax(914, 1194)
axe = add_ax(1216, 1496)

XMIN = (BASE + pd.Timedelta(days=-0.394)).to_pydatetime()
XMAX = (BASE + pd.Timedelta(days=7.321)).to_pydatetime()


def style(ax, ylim, major, ylabel, letter, letter_y, label_x=-0.081, bottom_labels=False):
    ax.set_xlim(XMIN, XMAX)
    ax.set_ylim(*ylim)
    ax.yaxis.set_major_locator(MultipleLocator(major))
    ax.yaxis.set_minor_locator(MultipleLocator(major / 2))
    ax.yaxis.set_major_formatter(FormatStrFormatter("%.2f"))
    ax.xaxis.set_major_locator(mdates.DayLocator(bymonthday=x_tick_days))
    ax.xaxis.set_minor_locator(mdates.DayLocator(bymonthday=x_minor_days))
    ax.xaxis.set_major_formatter(mdates.DateFormatter("%b %d"))
    ax.grid(True, which="both", color=GRID, lw=1.0)
    ax.set_axisbelow(True)
    ax.tick_params(which="major", direction="out", length=4, width=1, color="#333333",
                   labelsize=19, labelcolor="#1a1a1a", pad=2, bottom=True, left=True)
    ax.tick_params(which="minor", length=0)
    ax.tick_params(axis="x", labelbottom=bottom_labels, pad=3)
    for s in ax.spines.values():
        s.set_color("#333333")
        s.set_linewidth(1.0)
    ax.set_xlabel("")
    ax.set_ylabel(ylabel, fontsize=20, color="black")
    ax.yaxis.set_label_coords(label_x, 0.5)
    ax.text(0.034, letter_y, letter, transform=ax.transAxes, fontsize=33,
            va="baseline", ha="left", color="black")


def leg_kw(fs=16.5):
    return dict(frameon=True, fancybox=False, edgecolor="none", facecolor="white", framealpha=1,
                fontsize=fs, borderaxespad=0, bbox_transform=fig.transFigure)


# ---- panel a ----
da = frame(stage)
sns.lineplot(data=da, x="time", y="v", ax=axa, color=GREY_LINE, lw=1.9, legend=False,
             estimator=None, sort=False)
style(axa, (0.580, 0.873), 0.1, "rel. stream stage (m)", "a", 0.886)

# ---- panel b ----
dbs = frame(temp_surface)
dbp = frame(temp_pore)
sns.lineplot(data=dbs, x="time", y="v", ax=axb, color=ORANGE, lw=1.8, legend=False,
             estimator=None, sort=False)
sns.lineplot(data=dbp, x="time", y="v", ax=axb, color="black", lw=1.9, legend=False,
             estimator=None, sort=False)
style(axb, (3.93, 10.62), 2.0, "Temperature ( °C)", "b", 0.815, label_x=-0.084)
hb = [Line2D([], [], color=ORANGE, lw=2), Line2D([], [], color="black", lw=2)]
axb.legend(hb, ["surface water", "porewater"], loc="lower right",
           bbox_to_anchor=(1226 / W, 1 - 592 / H), handlelength=0.95, handletextpad=0.75,
           labelspacing=0.24, borderpad=0.5, **leg_kw(15.5))

# ---- panel c ----
dcs = frame(ec_surface)
dcp = frame(ec_pore)
dcm = frame(ec_sim_mean)
dcx = frame(ec_sim_max)
dcn = frame(ec_sim_min)
sns.lineplot(data=dcs, x="time", y="v", ax=axc, color=GREY_DOT, lw=3.6, legend=False,
             estimator=None, sort=False, linestyle=(0, (0.01, 1.05)), dash_capstyle="round")
sns.lineplot(data=dcp, x="time", y="v", ax=axc, color=ORANGE, lw=4.2, legend=False,
             estimator=None, sort=False, linestyle=(0, (0.01, 0.9)), dash_capstyle="round")
sns.lineplot(data=dcm, x="time", y="v", ax=axc, color=BLUE, lw=2.6, legend=False,
             estimator=None, sort=False)
for dd in (dcx, dcn):
    sns.lineplot(data=dd, x="time", y="v", ax=axc, color=BLUE, lw=1.6, legend=False,
                 estimator=None, sort=False, linestyle=(0, (3, 3)))
style(axc, (0.809, 1.173), 0.1, "EC (mS cm$^{-1}$)", "c", 0.843)
hc1 = [Line2D([], [], color=ORANGE, marker="o", ls="", markersize=8.5),
       Line2D([], [], color=GREY_DOT, marker="o", ls="", markersize=8.5)]
hc2 = [Line2D([], [], color=BLUE, lw=2.6),
       Line2D([], [], color=BLUE, lw=2.6, ls=(0, (2.6, 6)))]
lc1 = axc.legend(hc1, ["porewater", "surface water"], loc="lower left", title="measured",
                 title_fontsize=16.5, bbox_to_anchor=(805 / W, 1 - 890 / H), handlelength=0.8,
                 handletextpad=0.65, labelspacing=0.1, borderpad=0.45, **leg_kw())
lc1._legend_box.sep = 8
axc.add_artist(lc1)
lc2 = axc.legend(hc2, ["conditional mean", "min, max"], loc="lower right", title="simulated",
                 title_fontsize=16.5, bbox_to_anchor=(1238 / W, 1 - 890 / H), handlelength=0.85,
                 handletextpad=0.65, labelspacing=0.1, borderpad=0.45, **leg_kw())
lc2._legend_box.sep = 8

# ---- panel d ----
dvb = frame(v_band, ("day", "lo", "hi"))
axd.fill_between(dvb["time"].values, dvb["lo"], dvb["hi"], color=BAND, lw=0, zorder=1.5)
for dd in (frame(v_max), frame(v_min)):
    sns.lineplot(data=dd, x="time", y="v", ax=axd, color=BLUE, lw=1.1, legend=False,
                 estimator=None, sort=False, linestyle=(0, (3.5, 3.5)))
sns.lineplot(data=frame(v_mean), x="time", y="v", ax=axd, color="black", lw=2.2, legend=False,
             estimator=None, sort=False)
style(axd, (0.0090, 0.0496), 0.01, "v (m h$^{-1}$)", "d", 0.829)
hd = [Line2D([], [], color="black", lw=1.2), Line2D([], [], color=BLUE, lw=1.1, ls=(0, (3.5, 3.5)))]
axd.legend(hd, ["conditional mean", "min, max"], loc="lower left",
           bbox_to_anchor=(239 / W, 1 - 1182 / H), handlelength=0.9, handletextpad=0.7,
           labelspacing=0.1, borderpad=0.5, **leg_kw())

# ---- panel e ----
deb = frame(tau_band, ("day", "lo", "hi"))
axe.fill_between(deb["time"].values, deb["lo"], deb["hi"], color=BAND, lw=0, zorder=1.5)
for dd in (frame(tau_max), frame(tau_min)):
    sns.lineplot(data=dd, x="time", y="v", ax=axe, color=BLUE, lw=1.1, legend=False,
                 estimator=None, sort=False, linestyle=(0, (3.5, 3.5)))
sns.lineplot(data=frame(tau_mean), x="time", y="v", ax=axe, color="black", lw=2.2, legend=False,
             estimator=None, sort=False)
style(axe, (1.51, 5.91), 1.0, "τ (h)", "e", 0.825, bottom_labels=True)
he = [Line2D([], [], color="black", lw=1.2), Line2D([], [], color=BLUE, lw=1.1, ls=(0, (3.5, 3.5)))]
axe.legend(he, ["conditional mean", "min, max"], loc="upper left",
           bbox_to_anchor=(906 / W, 1 - 1244 / H), handlelength=0.9, handletextpad=0.7,
           labelspacing=0.1, borderpad=0.5, **leg_kw())

fig.savefig("out.png", dpi=100)
